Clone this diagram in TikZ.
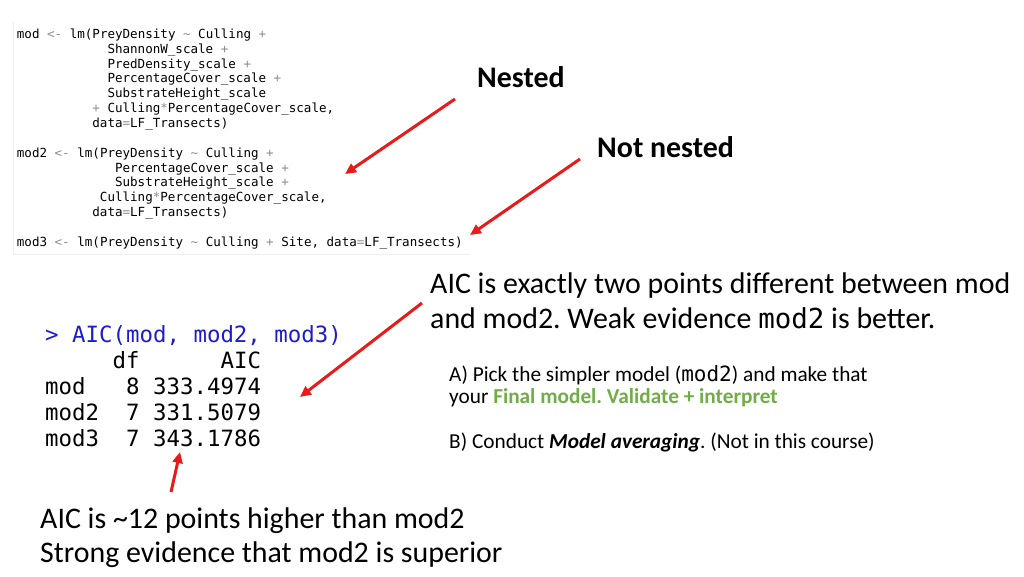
\documentclass[tikz,border=0pt]{standalone}
\usepackage{fontspec}
\setmainfont{Carlito}
\setmonofont{DejaVu Sans Mono}
\usetikzlibrary{arrows.meta}
\definecolor{arrowred}{RGB}{232,26,26}
\definecolor{promptblue}{RGB}{28,28,204}
\definecolor{opgray}{RGB}{140,140,140}
\definecolor{finalgreen}{RGB}{112,173,71}
\newcommand\op[1]{\textcolor{opgray}{#1}}
\frenchspacing
\tikzset{
  code/.style={anchor=base west,inner sep=0pt,text=black,font=\fontsize{12.55}{14}\ttfamily},
  aic/.style={anchor=base west,inner sep=0pt,font=\fontsize{22.4}{26}\ttfamily},
  bignote/.style={anchor=base west,inner sep=0pt,font=\fontsize{29.9}{35}\selectfont},
  smallnote/.style={anchor=base west,inner sep=0pt,font=\fontsize{21.3}{25}\selectfont},
  pointer/.style={draw=arrowred,line width=3pt,-{Triangle[length=11pt,width=10pt]}}
}
\begin{document}
\begin{tikzpicture}[x=1pt,y=-1pt]
\useasboundingbox (0,0) rectangle (1024,576);
% model code
\draw[black!6] (13,22) -- (13,254) -- (470,254);
\foreach \n/\c/\y/\t in {
  ma/0/38.5/{mod \op{<-} lm(PreyDensity \op{\textasciitilde} Culling \op{+}},
  mb/12/53.3/{ShannonW\_scale \op{+}},
  mc/12/68.1/{PredDensity\_scale \op{+}},
  md/12/82.9/{PercentageCover\_scale \op{+}},
  me/12/97.7/{SubstrateHeight\_scale},
  mf/10/112.5/{\op{+} Culling\op{*}PercentageCover\_scale,},
  mg/10/127.3/{data\op{=}LF\_Transects)},
  na/0/157.3/{mod2 \op{<-} lm(PreyDensity \op{\textasciitilde} Culling \op{+}},
  nb/13/172.1/{PercentageCover\_scale \op{+}},
  nc/13/186.9/{SubstrateHeight\_scale \op{+}},
  nd/11/201.7/{Culling\op{*}PercentageCover\_scale,},
  ne/10/216.5/{data\op{=}LF\_Transects)},
  oa/0/246/{mod3 \op{<-} lm(PreyDensity \op{\textasciitilde} Culling \op{+} Site, data\op{=}LF\_Transects)}}
  \node[code] (\n) at ({16.7+\c*7.55},\y) {\t};
% AIC table
\node[aic,text=promptblue] (prompt) at (45,342.7) {> AIC(mod, mod2, mod3)};
\node[aic] (head) at ({45+5*13.49},368) {df};
\node[aic] (headaic) at ({45+13*13.49},368) {AIC};
\foreach \n/\y/\m/\d/\v in {rowa/394.3/mod/8/333.4974,rowb/420.7/mod2/7/331.5079,rowc/446.7/mod3/7/343.1786}{
  \node[aic] (\n) at (45,\y) {\m};
  \node[aic] (\n df) at ({45+6*13.49},\y) {\d};
  \node[aic] (\n val) at ({45+8*13.49},\y) {\v};
}
% notes
\node[bignote,font=\fontsize{29.9}{35}\bfseries] (nested) at (477,87) {Nested};
\node[bignote,font=\fontsize{29.9}{35}\bfseries] (notnested) at (597,157) {Not nested};
\node[bignote] (twoa) at (430,293) {AIC is exactly two points different between mod};
\node[bignote] (twob) at (430,328) {and mod2. Weak evidence {\fontsize{27.5}{28}\ttfamily mod2} is better.};
\node[smallnote] (picka) at (449,381) {A) Pick the simpler model ({\fontsize{21}{25}\ttfamily mod2}) and make that};
\node[smallnote] (pickb) at (449,403) {your \textcolor{finalgreen}{\bfseries Final model. Validate + interpret}};
\node[smallnote] (avg) at (449,448) {B) Conduct \textbf{\itshape Model averaging}. (Not in this course)};
\node[bignote] (twelvea) at (40,528) {AIC is \textasciitilde12 points higher than mod2};
\node[bignote] (twelveb) at (40,562) {Strong evidence that mod2 is superior};
% arrows
\coordinate (nestedtail) at (455,99);
\coordinate (nestedtip) at (345,174);
\coordinate (notnestedtail) at (580,159);
\coordinate (notnestedtip) at (470,235);
\coordinate (twotail) at (422,303);
\coordinate (twotip) at (300,397);
\coordinate (twelvetail) at (171,492);
\coordinate (twelvetip) at (180,452);
\draw[pointer] (nestedtail) -- (nestedtip);
\draw[pointer] (notnestedtail) -- (notnestedtip);
\draw[pointer] (twotail) -- (twotip);
\draw[pointer] (twelvetail) -- (twelvetip);
\end{tikzpicture}
\end{document}
